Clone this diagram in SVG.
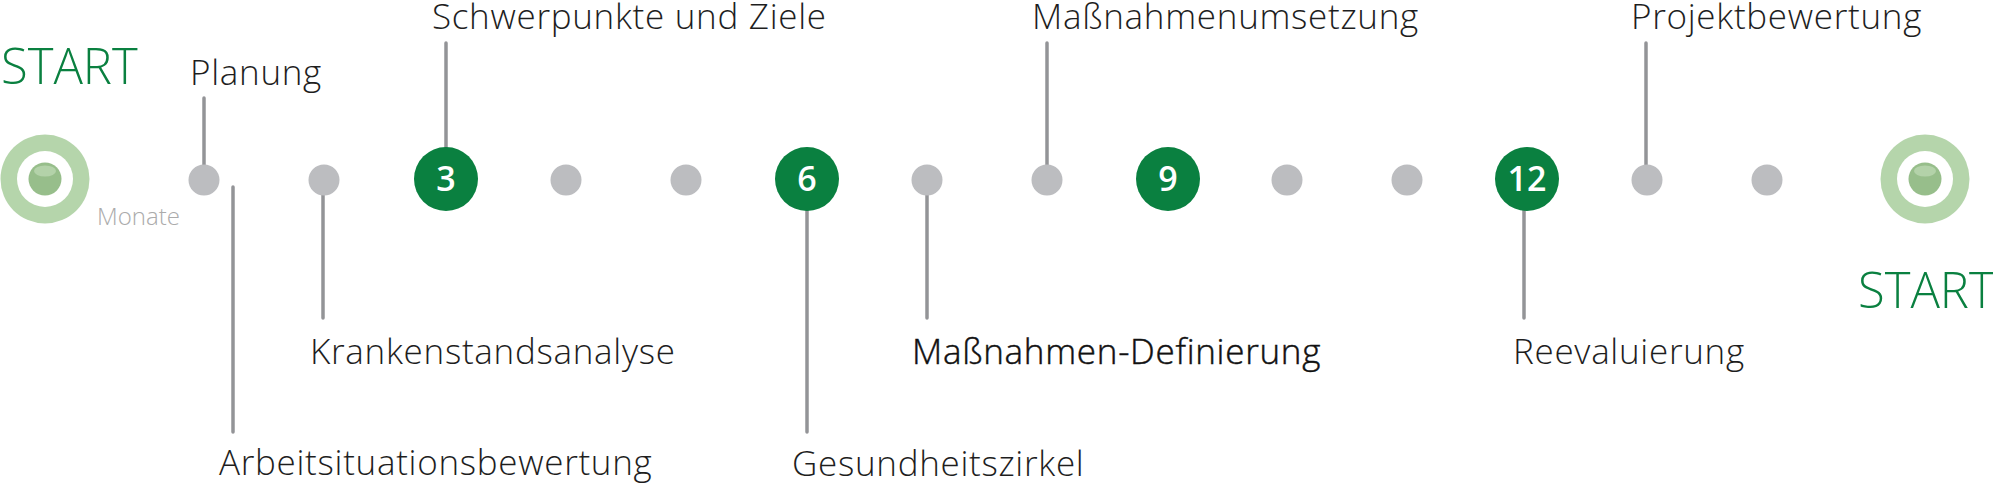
<svg xmlns="http://www.w3.org/2000/svg" width="1993" height="486" viewBox="0 0 1993 486">
<style>
.lbl{font-family:"Open Sans","Noto Sans",sans-serif;font-weight:300;font-size:35px;letter-spacing:0.7px;fill:#1e1e1e}
.lbl2{font-family:"Open Sans","Noto Sans",sans-serif;font-weight:300;font-size:35px;letter-spacing:0.7px;fill:#111111;stroke:#111111;stroke-width:0.45px}
.start{font-family:"Open Sans","Noto Sans",sans-serif;font-weight:300;font-size:49px;fill:#0a8040}
.mon{font-family:"Open Sans","Noto Sans",sans-serif;font-weight:300;font-size:24px;fill:#ababab}
.num{font-family:"Open Sans","Noto Sans",sans-serif;font-weight:600;font-size:34px;fill:#ffffff;text-anchor:middle}
.dot{fill:#bcbdc0}
.big{fill:#0a8040}
.ring{fill:#b5d5ab}
.hole{fill:#ffffff}
.core{fill:#97be8b}
.hl{fill:#b3d2a9}
.conn line{stroke:#939497;stroke-width:3.5;stroke-linecap:round}
</style>
<g class="conn" id="connectors">
<line x1="204" y1="98" x2="204" y2="166"/>
<line x1="233" y1="187" x2="233" y2="432"/>
<line x1="323" y1="194" x2="323" y2="318"/>
<line x1="446" y1="43" x2="446" y2="150"/>
<line x1="807" y1="210" x2="807" y2="432"/>
<line x1="927" y1="194" x2="927" y2="318"/>
<line x1="1047" y1="43" x2="1047" y2="166"/>
<line x1="1524" y1="210" x2="1524" y2="318"/>
<line x1="1646" y1="43" x2="1646" y2="166"/>
</g>
<g id="start-left">
<circle class="ring" cx="45" cy="179" r="44.5"/>
<circle class="hole" cx="45" cy="179" r="28"/>
<circle class="core" cx="45" cy="179" r="16.5"/>
<ellipse class="hl" cx="45" cy="171" rx="11" ry="5.5"/>
<text class="start" x="1" y="84">START</text>
<text class="mon" x="97" y="225">Monate</text>
</g>
<g id="m1"><circle class="dot" cx="204" cy="180" r="15.5"/><text class="lbl" x="190" y="85">Planung</text></g>
<g id="m2"><circle class="dot" cx="324" cy="180" r="15.5"/><text class="lbl" x="219" y="475">Arbeitsituationsbewertung</text><text class="lbl" x="310" y="364">Krankenstandsanalyse</text></g>
<g id="m3"><circle class="big" cx="446" cy="179" r="32"/><text class="num" x="446" y="191">3</text><text class="lbl" x="432" y="29">Schwerpunkte und Ziele</text></g>
<g id="m4"><circle class="dot" cx="566" cy="180" r="15.5"/></g>
<g id="m5"><circle class="dot" cx="686" cy="180" r="15.5"/></g>
<g id="m6"><circle class="big" cx="807" cy="179" r="32"/><text class="num" x="807" y="191">6</text><text class="lbl" x="792" y="476">Gesundheitszirkel</text></g>
<g id="m7"><circle class="dot" cx="927" cy="180" r="15.5"/><text class="lbl2" x="912" y="364">Maßnahmen-Definierung</text></g>
<g id="m8"><circle class="dot" cx="1047" cy="180" r="15.5"/><text class="lbl" x="1032" y="29">Maßnahmenumsetzung</text></g>
<g id="m9"><circle class="big" cx="1168" cy="179" r="32"/><text class="num" x="1168" y="191">9</text></g>
<g id="m10"><circle class="dot" cx="1287" cy="180" r="15.5"/></g>
<g id="m11"><circle class="dot" cx="1407" cy="180" r="15.5"/></g>
<g id="m12"><circle class="big" cx="1527" cy="179" r="32"/><text class="num" x="1527" y="191">12</text><text class="lbl" x="1513" y="364">Reevaluierung</text></g>
<g id="m13"><circle class="dot" cx="1647" cy="180" r="15.5"/><text class="lbl" x="1631" y="29">Projektbewertung</text></g>
<g id="m14"><circle class="dot" cx="1767" cy="180" r="15.5"/></g>
<g id="start-right">
<circle class="ring" cx="1925" cy="179" r="44.5"/>
<circle class="hole" cx="1925" cy="179" r="28"/>
<circle class="core" cx="1925" cy="179" r="16.5"/>
<ellipse class="hl" cx="1925" cy="171" rx="11" ry="5.5"/>
<text class="start" x="1858" y="308">START</text>
</g>
</svg>
